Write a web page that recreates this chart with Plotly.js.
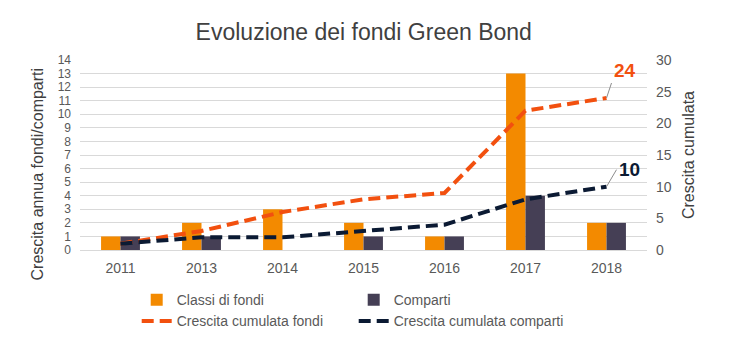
<!DOCTYPE html>
<html><head><meta charset="utf-8">
<script src="https://cdn.plot.ly/plotly-3.0.1.min.js"></script>
<style>html,body{margin:0;padding:0;background:#fff}</style>
</head><body>
<div id="chart" style="width:750px;height:360px"></div>
<script>
const years = ['2011','2013','2014','2015','2016','2017','2018'];
const classiFondi = [1,2,3,2,1,13,2];
const comparti = [1,1,0,1,1,4,2];
const cumFondi = [1,3,6,8,9,22,24];
const cumComparti = [1,2,2,3,4,8,10];
const lastIdx = years.length - 1;

const font = 'Arial, "Liberation Sans", sans-serif';
const traces = [
  {type:'bar', name:'Classi di fondi', x:years, y:classiFondi, marker:{color:'#F38A00'}, yaxis:'y'},
  {type:'bar', name:'Comparti', x:years, y:comparti, marker:{color:'#453F55'}, yaxis:'y'},
  {type:'scatter', mode:'lines', name:'Crescita cumulata fondi', x:years, y:cumFondi, yaxis:'y2',
   line:{color:'#F2500F', width:4, dash:'12px,6px'}},
  {type:'scatter', mode:'lines', name:'Crescita cumulata comparti', x:years, y:cumComparti, yaxis:'y2',
   line:{color:'#0B1A33', width:4, dash:'12px,6px'}}
];
const layout = {
  width:750, height:360,
  margin:{l:80, r:103, t:60, b:110},
  paper_bgcolor:'#fff', plot_bgcolor:'#fff',
  font:{family:font, color:'#595959', size:14},
  title:{text:'Evoluzione dei fondi Green Bond', x:0.485, xanchor:'center', y:0.935, font:{size:23, color:'#404040', family:font}},
  barmode:'group', bargap:0.52, bargroupgap:0,
  xaxis:{type:'category', tickfont:{size:14, color:'#595959'}, showline:false, zeroline:false, ticks:'', showgrid:false, ticklabelstandoff:8},
  yaxis:{range:[0,14], dtick:1, tickfont:{size:12, color:'#595959'}, gridcolor:'#D9D9D9', zeroline:true, zerolinecolor:'#D9D9D9',
    ticklabelstandoff:8},
  yaxis2:{range:[0,30], dtick:5, overlaying:'y', side:'right', showgrid:false, zeroline:false, tickfont:{size:14, color:'#595959'},
    ticklabelstandoff:8,
    title:{text:'Crescita cumulata', font:{size:16, color:'#404040'}, standoff:12}},
  legend:{orientation:'h', x:0.1, xanchor:'left', y:-0.18, yanchor:'top', entrywidth:172, traceorder:'normal',
    font:{size:14, color:'#595959'}},
  showlegend:true,
  annotations:[
    {xref:'paper', yref:'paper', x:-0.075, y:0.4, xanchor:'center', yanchor:'middle', textangle:-90, showarrow:false,
     text:'Crescita annua fondi/comparti', font:{size:16, color:'#404040'}},
    {x:lastIdx, y:24, xref:'x', yref:'y2', text:'<b>24</b>', showarrow:true, arrowhead:0, arrowwidth:1, arrowcolor:'#8C8C8C',
     ax:5, ay:-15, xanchor:'left', yanchor:'bottom', font:{size:19, color:'#F2500F'}},
    {x:lastIdx, y:10, xref:'x', yref:'y2', text:'<b>10</b>', showarrow:true, arrowhead:0, arrowwidth:1, arrowcolor:'#8C8C8C',
     ax:10, ay:-17, xanchor:'left', yanchor:'middle', font:{size:19, color:'#0B1A33'}}
  ]
};
Plotly.newPlot('chart', traces, layout, {displayModeBar:false, staticPlot:true});
</script>
</body></html>
